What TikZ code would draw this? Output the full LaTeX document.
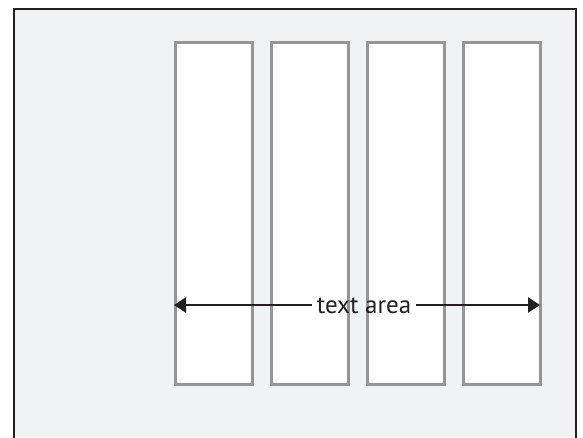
\documentclass[tikz,border=0pt]{standalone}
\usepackage{fontspec}
\setmainfont{PT Sans}
\usetikzlibrary{arrows.meta}
\definecolor{pagebg}{HTML}{F1F2F4}
\definecolor{colgray}{HTML}{959597}
\definecolor{ink}{HTML}{231F20}
\tikzset{
  column/.style={draw=colgray, fill=white, line width=2.7pt},
  measure/.style={draw=ink, line width=2.6pt},
  tip/.style={-{Triangle[length=12pt,width=15pt]}},
  lbl/.style={inner sep=5pt, font=\fontsize{25}{27}\selectfont, text=ink}
}
\begin{document}
\begin{tikzpicture}[x=1pt,y=-1pt]
\useasboundingbox (0,0) rectangle (583,437);
\fill[pagebg] (14,9) rectangle (576,437);
\draw[ink, line width=2.8pt] (14,440) -- (14,9) -- (576,9) -- (576,440);
\foreach \i/\x in {1/174,2/270,3/366,4/462}{
  \node[column, minimum width=77pt, minimum height=342pt, inner sep=0pt, anchor=north west] (c\i) at (\x,41) {};
}
\coordinate (aL) at (174,305);
\coordinate (aR) at (540,305);
\node[lbl, anchor=base] (t) at (364,313) {text area};
\draw[measure, tip] (t.west |- aL) -- (aL);
\draw[measure, tip] (t.east |- aR) -- (aR);
\end{tikzpicture}
\end{document}
